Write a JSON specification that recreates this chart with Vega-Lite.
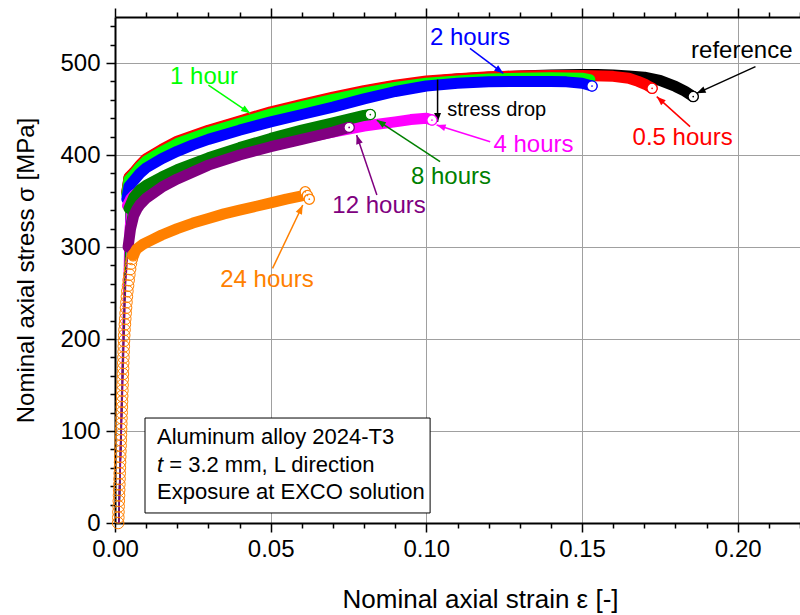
{
  "$schema": "https://vega.github.io/schema/vega-lite/v6.json",
  "width": 685,
  "height": 506,
  "autosize": "none",
  "padding": {"left": 115, "top": 17, "right": 0, "bottom": 92},
  "config": {"view": {"stroke": null}, "font": "Liberation Sans"},
  "datasets": {
    "curves": [
      {"s":"reference","e":0.0012,"v":0},{"s":"reference","e":0.0038,"v":359},{"s":"reference","e":0.0045,"v":375},{"s":"reference","e":0.006,"v":380},{"s":"reference","e":0.008,"v":388},{"s":"reference","e":0.01,"v":395},{"s":"reference","e":0.015,"v":405},{"s":"reference","e":0.02,"v":414},{"s":"reference","e":0.025,"v":420},{"s":"reference","e":0.03,"v":426},{"s":"reference","e":0.04,"v":436},{"s":"reference","e":0.05,"v":446},{"s":"reference","e":0.06,"v":454},{"s":"reference","e":0.07,"v":462},{"s":"reference","e":0.08,"v":469},{"s":"reference","e":0.09,"v":475},{"s":"reference","e":0.1,"v":479.5},{"s":"reference","e":0.11,"v":482.5},{"s":"reference","e":0.12,"v":484.5},{"s":"reference","e":0.13,"v":486},{"s":"reference","e":0.14,"v":487},{"s":"reference","e":0.15,"v":487.5},{"s":"reference","e":0.155,"v":487.5},{"s":"reference","e":0.16,"v":487},{"s":"reference","e":0.165,"v":486},{"s":"reference","e":0.17,"v":484.5},{"s":"reference","e":0.175,"v":481},{"s":"reference","e":0.18,"v":474.5},{"s":"reference","e":0.183,"v":469.5},{"s":"reference","e":0.1857,"v":463.5},
      {"s":"0.5 hours","e":0.0012,"v":0},{"s":"0.5 hours","e":0.0038,"v":360},{"s":"0.5 hours","e":0.0045,"v":376},{"s":"0.5 hours","e":0.006,"v":381},{"s":"0.5 hours","e":0.008,"v":389},{"s":"0.5 hours","e":0.01,"v":396},{"s":"0.5 hours","e":0.015,"v":406},{"s":"0.5 hours","e":0.02,"v":415},{"s":"0.5 hours","e":0.025,"v":421},{"s":"0.5 hours","e":0.03,"v":427},{"s":"0.5 hours","e":0.04,"v":437},{"s":"0.5 hours","e":0.05,"v":447},{"s":"0.5 hours","e":0.06,"v":455},{"s":"0.5 hours","e":0.07,"v":463},{"s":"0.5 hours","e":0.08,"v":470},{"s":"0.5 hours","e":0.09,"v":476},{"s":"0.5 hours","e":0.1,"v":480.5},{"s":"0.5 hours","e":0.11,"v":483},{"s":"0.5 hours","e":0.12,"v":485},{"s":"0.5 hours","e":0.13,"v":486},{"s":"0.5 hours","e":0.14,"v":486.5},{"s":"0.5 hours","e":0.15,"v":486.5},{"s":"0.5 hours","e":0.16,"v":485.5},{"s":"0.5 hours","e":0.165,"v":483.5},{"s":"0.5 hours","e":0.168,"v":480},{"s":"0.5 hours","e":0.1705,"v":476.5},{"s":"0.5 hours","e":0.1725,"v":472.5},
      {"s":"1 hour","e":0.0012,"v":0},{"s":"1 hour","e":0.0038,"v":357},{"s":"1 hour","e":0.0045,"v":373},{"s":"1 hour","e":0.006,"v":378.5},{"s":"1 hour","e":0.008,"v":386.5},{"s":"1 hour","e":0.01,"v":393.5},{"s":"1 hour","e":0.015,"v":403.5},{"s":"1 hour","e":0.02,"v":412.5},{"s":"1 hour","e":0.025,"v":418.5},{"s":"1 hour","e":0.03,"v":424.5},{"s":"1 hour","e":0.04,"v":434.5},{"s":"1 hour","e":0.05,"v":444.5},{"s":"1 hour","e":0.06,"v":452.5},{"s":"1 hour","e":0.07,"v":460.5},{"s":"1 hour","e":0.08,"v":467.5},{"s":"1 hour","e":0.09,"v":473.5},{"s":"1 hour","e":0.1,"v":478},{"s":"1 hour","e":0.11,"v":480.5},{"s":"1 hour","e":0.12,"v":482.5},{"s":"1 hour","e":0.13,"v":483.5},{"s":"1 hour","e":0.14,"v":484},{"s":"1 hour","e":0.15,"v":483.5},{"s":"1 hour","e":0.1525,"v":482},
      {"s":"2 hours","e":0.0012,"v":0},{"s":"2 hours","e":0.0038,"v":352},{"s":"2 hours","e":0.0045,"v":366},{"s":"2 hours","e":0.006,"v":372},{"s":"2 hours","e":0.008,"v":380},{"s":"2 hours","e":0.01,"v":386},{"s":"2 hours","e":0.015,"v":396},{"s":"2 hours","e":0.02,"v":404},{"s":"2 hours","e":0.025,"v":411},{"s":"2 hours","e":0.03,"v":417},{"s":"2 hours","e":0.04,"v":427},{"s":"2 hours","e":0.05,"v":436},{"s":"2 hours","e":0.06,"v":444},{"s":"2 hours","e":0.07,"v":452},{"s":"2 hours","e":0.08,"v":461},{"s":"2 hours","e":0.09,"v":469},{"s":"2 hours","e":0.1,"v":475},{"s":"2 hours","e":0.11,"v":478},{"s":"2 hours","e":0.12,"v":479.5},{"s":"2 hours","e":0.13,"v":480},{"s":"2 hours","e":0.14,"v":480},{"s":"2 hours","e":0.145,"v":479.5},{"s":"2 hours","e":0.15,"v":478},{"s":"2 hours","e":0.1532,"v":475},
      {"s":"4 hours","e":0.0012,"v":0},{"s":"4 hours","e":0.0033,"v":320},{"s":"4 hours","e":0.004,"v":345},{"s":"4 hours","e":0.005,"v":352},{"s":"4 hours","e":0.006,"v":356},{"s":"4 hours","e":0.008,"v":361},{"s":"4 hours","e":0.01,"v":365},{"s":"4 hours","e":0.015,"v":372},{"s":"4 hours","e":0.02,"v":379},{"s":"4 hours","e":0.03,"v":391},{"s":"4 hours","e":0.04,"v":401},{"s":"4 hours","e":0.05,"v":410},{"s":"4 hours","e":0.06,"v":418},{"s":"4 hours","e":0.07,"v":425},{"s":"4 hours","e":0.08,"v":431.5},{"s":"4 hours","e":0.09,"v":436},{"s":"4 hours","e":0.095,"v":438.5},{"s":"4 hours","e":0.1,"v":440},{"s":"4 hours","e":0.1018,"v":438},
      {"s":"8 hours","e":0.0012,"v":0},{"s":"8 hours","e":0.0036,"v":320},{"s":"8 hours","e":0.0045,"v":342},{"s":"8 hours","e":0.006,"v":354},{"s":"8 hours","e":0.008,"v":362},{"s":"8 hours","e":0.01,"v":367},{"s":"8 hours","e":0.015,"v":376},{"s":"8 hours","e":0.02,"v":384},{"s":"8 hours","e":0.03,"v":397},{"s":"8 hours","e":0.04,"v":408},{"s":"8 hours","e":0.05,"v":418},{"s":"8 hours","e":0.06,"v":427},{"s":"8 hours","e":0.07,"v":435},{"s":"8 hours","e":0.075,"v":439},{"s":"8 hours","e":0.08,"v":443},{"s":"8 hours","e":0.082,"v":444},
      {"s":"12 hours","e":0.0012,"v":0},{"s":"12 hours","e":0.0034,"v":260},{"s":"12 hours","e":0.0042,"v":300},{"s":"12 hours","e":0.005,"v":320},{"s":"12 hours","e":0.006,"v":334},{"s":"12 hours","e":0.007,"v":341},{"s":"12 hours","e":0.008,"v":346},{"s":"12 hours","e":0.01,"v":353},{"s":"12 hours","e":0.015,"v":365},{"s":"12 hours","e":0.02,"v":374},{"s":"12 hours","e":0.03,"v":389},{"s":"12 hours","e":0.04,"v":400},{"s":"12 hours","e":0.05,"v":409},{"s":"12 hours","e":0.06,"v":417},{"s":"12 hours","e":0.07,"v":425},{"s":"12 hours","e":0.0752,"v":430},
      {"s":"24 hours","e":0.0058,"v":291},{"s":"24 hours","e":0.007,"v":298},{"s":"24 hours","e":0.009,"v":303},{"s":"24 hours","e":0.012,"v":308},{"s":"24 hours","e":0.015,"v":313},{"s":"24 hours","e":0.02,"v":320},{"s":"24 hours","e":0.025,"v":326},{"s":"24 hours","e":0.03,"v":331},{"s":"24 hours","e":0.035,"v":336},{"s":"24 hours","e":0.04,"v":340},{"s":"24 hours","e":0.045,"v":344},{"s":"24 hours","e":0.05,"v":348},{"s":"24 hours","e":0.055,"v":352},{"s":"24 hours","e":0.06,"v":355.5},{"s":"24 hours","e":0.0612,"v":358}
    ],
    "orangeElastic": [
      {"s":"24 hours","e":0.00100,"v":0},{"s":"24 hours","e":0.00106,"v":6},{"s":"24 hours","e":0.00111,"v":12},{"s":"24 hours","e":0.00117,"v":18},{"s":"24 hours","e":0.00123,"v":24},{"s":"24 hours","e":0.00129,"v":30},{"s":"24 hours","e":0.00134,"v":36},{"s":"24 hours","e":0.00140,"v":42},{"s":"24 hours","e":0.00146,"v":48},{"s":"24 hours","e":0.00151,"v":54},{"s":"24 hours","e":0.00157,"v":60},{"s":"24 hours","e":0.00163,"v":66},{"s":"24 hours","e":0.00168,"v":72},{"s":"24 hours","e":0.00174,"v":78},{"s":"24 hours","e":0.00180,"v":84},{"s":"24 hours","e":0.00186,"v":90},{"s":"24 hours","e":0.00191,"v":96},{"s":"24 hours","e":0.00197,"v":102},{"s":"24 hours","e":0.00203,"v":108},{"s":"24 hours","e":0.00208,"v":114},{"s":"24 hours","e":0.00214,"v":120},{"s":"24 hours","e":0.00220,"v":126},{"s":"24 hours","e":0.00225,"v":132},{"s":"24 hours","e":0.00231,"v":138},{"s":"24 hours","e":0.00237,"v":144},{"s":"24 hours","e":0.00243,"v":150},{"s":"24 hours","e":0.00248,"v":156},{"s":"24 hours","e":0.00254,"v":162},{"s":"24 hours","e":0.00260,"v":168},{"s":"24 hours","e":0.00265,"v":174},{"s":"24 hours","e":0.00271,"v":180},{"s":"24 hours","e":0.00277,"v":186},{"s":"24 hours","e":0.00282,"v":192},{"s":"24 hours","e":0.00288,"v":198},{"s":"24 hours","e":0.00296,"v":204},{"s":"24 hours","e":0.00306,"v":210},{"s":"24 hours","e":0.00318,"v":216},{"s":"24 hours","e":0.00330,"v":222},{"s":"24 hours","e":0.00342,"v":228},{"s":"24 hours","e":0.00354,"v":234},{"s":"24 hours","e":0.00368,"v":240},{"s":"24 hours","e":0.00382,"v":246},{"s":"24 hours","e":0.00398,"v":252},{"s":"24 hours","e":0.00418,"v":258},{"s":"24 hours","e":0.00438,"v":264},{"s":"24 hours","e":0.00460,"v":270},{"s":"24 hours","e":0.00484,"v":276},{"s":"24 hours","e":0.00510,"v":282},{"s":"24 hours","e":0.00540,"v":287},{"s":"24 hours","e":0.00580,"v":291}
    ],
    "ends": [
      {"s":"reference","e":0.1857,"v":463.5},{"s":"0.5 hours","e":0.1725,"v":472.5},{"s":"2 hours","e":0.1532,"v":475},{"s":"4 hours","e":0.1018,"v":438},{"s":"8 hours","e":0.082,"v":444},{"s":"12 hours","e":0.0752,"v":430},{"s":"24 hours","e":0.0611,"v":360},{"s":"24 hours","e":0.0618,"v":356},{"s":"24 hours","e":0.0624,"v":352}
    ],
    "arrows": [
      {"s":"1 hour","e1":0.03,"v1":476,"e2":0.0434,"v2":445.3},
      {"s":"2 hours","e1":0.114,"v1":516,"e2":0.1247,"v2":488.8},
      {"s":"reference","e1":0.2057,"v1":496,"e2":0.1868,"v2":467},
      {"s":"0.5 hours","e1":0.1847,"v1":430.8,"e2":0.174,"v2":463.4},
      {"s":"note","e1":0.1036,"v1":482,"e2":0.1036,"v2":436},
      {"s":"4 hours","e1":0.1205,"v1":414.5,"e2":0.1033,"v2":432.6},
      {"s":"8 hours","e1":0.1044,"v1":392.7,"e2":0.0841,"v2":438},
      {"s":"12 hours","e1":0.0841,"v1":356.5,"e2":0.0776,"v2":421.7},
      {"s":"24 hours","e1":0.0506,"v1":276.8,"e2":0.0603,"v2":345.6}
    ],
    "labels": [
      {"s":"1 hour","e":0.0286,"v":485.1,"t":"1 hour"},
      {"s":"2 hours","e":0.114,"v":527.7,"t":"2 hours"},
      {"s":"reference","e":0.2013,"v":513.3,"t":"reference"},
      {"s":"0.5 hours","e":0.1823,"v":418.5,"t":"0.5 hours"},
      {"s":"4 hours","e":0.1344,"v":410.9,"t":"4 hours"},
      {"s":"8 hours","e":0.1079,"v":376.4,"t":"8 hours"},
      {"s":"12 hours","e":0.0848,"v":344.6,"t":"12 hours"},
      {"s":"24 hours","e":0.0488,"v":264.1,"t":"24 hours"}
    ],
    "notes": [
      {"s":"note","e":0.1226,"v":449,"t":"stress drop"}
    ],
    "box": [
      {"e1":0.00964,"v1":114.1,"e2":0.1012,"v2":10.9}
    ],
    "boxText": [
      {"e":0.01349,"v":93.8,"t":"Aluminum alloy 2024-T3"},
      {"e":0.01741,"v":63,"t":"= 3.2 mm, L direction"},
      {"e":0.01349,"v":34,"t":"Exposure at EXCO solution"}
    ],
    "boxItalic": [
      {"e":0.01349,"v":63,"t":"t"}
    ]
  },
  "resolve": {"axis": {"x": "independent"}},
  "layer": [
    {
      "layer": [
        {
          "data": {"name": "curves"},
          "transform": [{"filter": "datum.e <= 0.0045"}],
          "mark": {"type": "line", "strokeWidth": 1.5},
          "encoding": {
            "x": {"field": "e", "type": "quantitative", "scale": {"domain": [0, 0.22], "nice": false, "zero": false},
              "axis": {
                "values": [0,0.01,0.02,0.03,0.04,0.05,0.06,0.07,0.08,0.09,0.1,0.11,0.12,0.13,0.14,0.15,0.16,0.17,0.18,0.19,0.2,0.21,0.22],
                "tickCount": 200,
                "labelExpr": "abs(datum.value*20 - round(datum.value*20)) < 0.001 ? format(datum.value, '.2f') : ''",
                "labelFontSize": 24, "labelColor": "black", "labelPadding": 5, "labelFlush": false, "labelOverlap": false,
                "tickColor": "black", "tickWidth": 1.5,
                "tickSize": {"condition": {"test": "abs(datum.value*20 - round(datum.value*20)) < 0.001", "value": 9}, "value": 5},
                "domainColor": "black", "domainWidth": 2,
                "grid": true, "gridColor": "#a0a0a0", "gridWidth": 1,
                "gridOpacity": {"condition": {"test": "abs(datum.value*20 - round(datum.value*20)) < 0.001", "value": 1}, "value": 0},
                "title": "Nominal axial strain ε [-]", "titleFontSize": 26, "titleFontWeight": "normal", "titleColor": "black",
                "titleX": 365, "titleY": 84, "titleBaseline": "alphabetic", "titleAlign": "center"
              }
            },
            "y": {"field": "v", "type": "quantitative", "scale": {"domain": [0, 550], "nice": false, "zero": false},
              "axis": {
                "values": [0,20,40,60,80,100,120,140,160,180,200,220,240,260,280,300,320,340,360,380,400,420,440,460,480,500,520,540],
                "tickCount": 200,
                "labelExpr": "datum.value % 100 == 0 ? datum.value : ''",
                "labelFontSize": 24, "labelColor": "black", "labelPadding": 6, "labelOverlap": false, "labelFlush": false,
                "tickColor": "black", "tickWidth": 1.5,
                "tickSize": {"condition": {"test": "datum.value % 100 == 0", "value": 9}, "value": 5},
                "domainColor": "black", "domainWidth": 2,
                "grid": true, "gridColor": "#a0a0a0", "gridWidth": 1,
                "gridOpacity": {"condition": {"test": "datum.value % 100 == 0", "value": 1}, "value": 0},
                "title": "Nominal axial stress σ [MPa]", "titleFontSize": 24, "titleFontWeight": "normal", "titleColor": "black",
                "titleX": -82, "titleY": 253, "titleAngle": -90, "titleBaseline": "alphabetic", "titleAlign": "center"
              }
            },
            "color": {"field": "s", "type": "nominal", "legend": null,
              "scale": {"domain": ["reference","0.5 hours","1 hour","2 hours","4 hours","8 hours","12 hours","24 hours","note"],
                        "range": ["#000000","#ff0000","#00ff00","#0000ff","#ff00ff","#008000","#800080","#ff8000","#000000"]}}
          }
        },
        {
          "data": {"name": "curves"},
          "transform": [{"filter": "datum.e >= 0.0038"}],
          "mark": {"type": "line", "strokeWidth": 11, "strokeCap": "round", "strokeJoin": "round"},
          "encoding": {
            "x": {"field": "e", "type": "quantitative"},
            "y": {"field": "v", "type": "quantitative"},
            "color": {"field": "s", "type": "nominal", "legend": null}
          }
        },
        {
          "data": {"name": "orangeElastic"},
          "mark": {"type": "point", "shape": "circle", "filled": false, "size": 135, "strokeWidth": 1, "opacity": 1},
          "encoding": {
            "x": {"field": "e", "type": "quantitative"},
            "y": {"field": "v", "type": "quantitative"},
            "color": {"field": "s", "type": "nominal", "legend": null}
          }
        },
        {
          "data": {"name": "box"},
          "mark": {"type": "rect", "fill": "white", "stroke": "black", "strokeWidth": 1},
          "encoding": {
            "x": {"field": "e1", "type": "quantitative"},
            "x2": {"field": "e2"},
            "y": {"field": "v1", "type": "quantitative"},
            "y2": {"field": "v2"}
          }
        },
        {
          "data": {"name": "boxText"},
          "mark": {"type": "text", "fontSize": 22, "align": "left", "baseline": "middle", "color": "black"},
          "encoding": {
            "x": {"field": "e", "type": "quantitative"},
            "y": {"field": "v", "type": "quantitative"},
            "text": {"field": "t"}
          }
        },
        {
          "data": {"name": "boxItalic"},
          "mark": {"type": "text", "fontSize": 22, "fontStyle": "italic", "align": "left", "baseline": "middle", "color": "black"},
          "encoding": {
            "x": {"field": "e", "type": "quantitative"},
            "y": {"field": "v", "type": "quantitative"},
            "text": {"field": "t"}
          }
        },
        {
          "data": {"name": "arrows"},
          "mark": {"type": "rule", "strokeWidth": 1.5},
          "encoding": {
            "x": {"field": "e1", "type": "quantitative"},
            "y": {"field": "v1", "type": "quantitative"},
            "x2": {"field": "e2"},
            "y2": {"field": "v2"},
            "color": {"field": "s", "type": "nominal", "legend": null}
          }
        },
        {
          "data": {"name": "arrows"},
          "transform": [{"calculate": "atan2((datum.e2 - datum.e1) * 3113.6, (datum.v2 - datum.v1) * 0.92) * 180 / PI", "as": "ang"}],
          "mark": {"type": "point", "shape": "M0,0L-0.38,1L0.38,1Z", "filled": true, "size": 324, "opacity": 1, "strokeWidth": 0},
          "encoding": {
            "x": {"field": "e2", "type": "quantitative"},
            "y": {"field": "v2", "type": "quantitative"},
            "angle": {"field": "ang", "type": "quantitative", "scale": null},
            "color": {"field": "s", "type": "nominal", "legend": null}
          }
        },
        {
          "data": {"name": "labels"},
          "mark": {"type": "text", "fontSize": 24, "align": "center", "baseline": "middle"},
          "encoding": {
            "x": {"field": "e", "type": "quantitative"},
            "y": {"field": "v", "type": "quantitative"},
            "text": {"field": "t"},
            "color": {"field": "s", "type": "nominal", "legend": null}
          }
        },
        {
          "data": {"name": "notes"},
          "mark": {"type": "text", "fontSize": 20, "align": "center", "baseline": "middle", "color": "black"},
          "encoding": {
            "x": {"field": "e", "type": "quantitative"},
            "y": {"field": "v", "type": "quantitative"},
            "text": {"field": "t"}
          }
        },
        {
          "data": {"name": "ends"},
          "mark": {"type": "point", "shape": "circle", "fill": "white", "size": 105, "strokeWidth": 1.3, "opacity": 1},
          "encoding": {
            "x": {"field": "e", "type": "quantitative"},
            "y": {"field": "v", "type": "quantitative"},
            "stroke": {"field": "s", "type": "nominal", "legend": null,
              "scale": {"domain": ["reference","0.5 hours","1 hour","2 hours","4 hours","8 hours","12 hours","24 hours","note"],
                        "range": ["#000000","#ff0000","#00ff00","#0000ff","#ff00ff","#008000","#800080","#ff8000","#000000"]}}
          }
        },
        {
          "data": {"name": "ends"},
          "mark": {"type": "point", "shape": "circle", "filled": true, "size": 3, "opacity": 1},
          "encoding": {
            "x": {"field": "e", "type": "quantitative"},
            "y": {"field": "v", "type": "quantitative"},
            "color": {"field": "s", "type": "nominal", "legend": null}
          }
        }
      ]
    },
    {
      "data": {"name": "ends"},
      "mark": {"type": "point", "opacity": 0},
      "encoding": {
        "x": {"field": "e", "type": "quantitative", "scale": {"domain": [0, 0.22], "nice": false, "zero": false},
          "axis": {
            "orient": "top",
            "values": [0,0.01,0.02,0.03,0.04,0.05,0.06,0.07,0.08,0.09,0.1,0.11,0.12,0.13,0.14,0.15,0.16,0.17,0.18,0.19,0.2,0.21,0.22],
            "tickCount": 200,
            "labels": false, "grid": false, "title": null,
            "tickColor": "black", "tickWidth": 1.5,
            "tickSize": {"condition": {"test": "abs(datum.value*20 - round(datum.value*20)) < 0.001", "value": 9}, "value": 5},
            "domainColor": "black", "domainWidth": 2
          }
        }
      }
    }
  ]
}
